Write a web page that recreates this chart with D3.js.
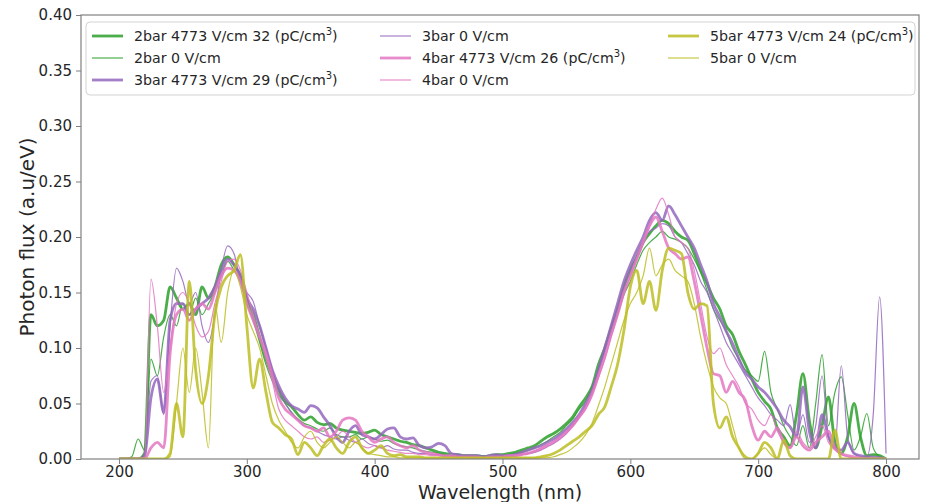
<!DOCTYPE html>
<html>
<head>
<meta charset="utf-8">
<script src="https://cdn.jsdelivr.net/npm/d3@7"></script>
<style>
  html, body { margin: 0; padding: 0; background: #ffffff; }
  svg { display: block; }
  text { font-family: "DejaVu Sans", sans-serif; fill: #262626; }
</style>
</head>
<body>
<svg id="chart" width="926" height="502"></svg>
<script>
// ---------------- DATA ----------------
const wavelengths = d3.range(200, 805, 5); // nm, 200..800 step 5

const g4773 = [
  0,0,0,0,0.005,0.13,0.12,0.125,0.155,0.145,
  0.135,0.14,0.13,0.155,0.145,0.155,0.175,0.182,0.175,0.165,
  0.145,0.13,0.11,0.09,0.075,0.062,0.052,0.047,0.04,0.035,
  0.038,0.033,0.031,0.032,0.028,0.026,0.025,0.024,0.023,0.024,
  0.026,0.022,0.02,0.018,0.016,0.015,0.013,0.012,0.01,0.008,
  0.006,0.005,0.004,0.004,0.003,0.003,0.003,0.002,0.003,0.004,
  0.004,0.005,0.006,0.008,0.01,0.012,0.016,0.02,0.023,0.027,
  0.032,0.038,0.047,0.055,0.065,0.085,0.1,0.118,0.135,0.155,
  0.17,0.182,0.195,0.203,0.21,0.215,0.212,0.205,0.2,0.197,
  0.185,0.17,0.158,0.145,0.135,0.12,0.112,0.097,0.085,0.072,
  0.06,0.052,0.045,0.028,0.02,0.012,0.04,0.077,0.035,0.01,
  0.03,0.056,0.015,0.005,0.02,0.05,0.02,0.003,0.004,0.003,
  0
];
const g0 = [
  0,0,0.002,0.018,0.008,0.09,0.075,0.11,0.13,0.12,
  0.14,0.13,0.145,0.13,0.14,0.15,0.165,0.178,0.17,0.16,
  0.14,0.125,0.105,0.085,0.07,0.058,0.05,0.042,0.036,0.032,
  0.03,0.027,0.025,0.028,0.022,0.02,0.02,0.022,0.018,0.02,
  0.018,0.016,0.017,0.014,0.012,0.011,0.01,0.008,0.007,0.006,
  0.005,0.004,0.003,0.003,0.002,0.003,0.002,0.003,0.002,0.003,
  0.003,0.004,0.005,0.006,0.008,0.01,0.013,0.016,0.02,0.024,
  0.03,0.036,0.045,0.052,0.065,0.08,0.098,0.115,0.13,0.148,
  0.16,0.175,0.188,0.195,0.2,0.205,0.2,0.198,0.195,0.19,
  0.18,0.168,0.152,0.135,0.125,0.115,0.1,0.09,0.08,0.075,
  0.07,0.097,0.06,0.045,0.03,0.02,0.012,0.03,0.01,0.05,
  0.094,0.03,0.06,0.074,0.04,0.008,0.02,0.041,0.01,0.002,
  0
];
const p4773 = [
  0,0,0,0,0.002,0.055,0.072,0.042,0.125,0.14,
  0.14,0.13,0.135,0.14,0.145,0.155,0.17,0.18,0.175,0.165,
  0.145,0.135,0.12,0.1,0.08,0.066,0.055,0.048,0.045,0.042,
  0.048,0.046,0.038,0.03,0.02,0.015,0.025,0.03,0.022,0.02,
  0.018,0.022,0.027,0.028,0.02,0.018,0.019,0.012,0.01,0.011,
  0.014,0.012,0.005,0.004,0.003,0.003,0.003,0.002,0.003,0.004,
  0.003,0.003,0.004,0.006,0.008,0.01,0.012,0.015,0.018,0.022,
  0.027,0.033,0.04,0.05,0.062,0.08,0.1,0.12,0.14,0.16,
  0.175,0.188,0.2,0.215,0.222,0.215,0.228,0.22,0.21,0.2,
  0.19,0.175,0.16,0.14,0.128,0.115,0.104,0.09,0.078,0.072,
  0.065,0.06,0.053,0.045,0.035,0.029,0.02,0.065,0.025,0.01,
  0.04,0.02,0.01,0.008,0.015,0.005,0.003,0.002,0.002,0.001,
  0
];
const p0 = [
  0,0,0,0,0.005,0.07,0.075,0.04,0.12,0.172,
  0.16,0.14,0.15,0.12,0.105,0.13,0.17,0.192,0.185,0.16,
  0.15,0.142,0.12,0.1,0.08,0.062,0.05,0.042,0.035,0.03,
  0.028,0.025,0.022,0.02,0.018,0.02,0.017,0.015,0.018,0.014,
  0.012,0.01,0.012,0.009,0.008,0.008,0.006,0.005,0.005,0.004,
  0.004,0.003,0.003,0.003,0.002,0.002,0.002,0.002,0.002,0.002,
  0.002,0.003,0.003,0.004,0.005,0.006,0.008,0.011,0.014,0.018,
  0.023,0.03,0.038,0.048,0.06,0.078,0.096,0.115,0.135,0.155,
  0.17,0.183,0.195,0.205,0.208,0.212,0.21,0.2,0.195,0.185,
  0.175,0.16,0.15,0.135,0.12,0.105,0.095,0.085,0.075,0.065,
  0.055,0.048,0.04,0.035,0.03,0.049,0.02,0.04,0.015,0.03,
  0.075,0.02,0.01,0.084,0.02,0.005,0.002,0.002,0.04,0.146,
  0.005
];
const k4773 = [
  0,0,0,0,0,0.01,0.015,0.01,0.095,0.13,
  0.135,0.125,0.135,0.14,0.135,0.15,0.165,0.172,0.17,0.16,
  0.14,0.125,0.11,0.095,0.075,0.055,0.045,0.04,0.035,0.03,
  0.028,0.025,0.028,0.02,0.025,0.035,0.037,0.035,0.025,0.02,
  0.015,0.018,0.02,0.015,0.012,0.01,0.012,0.008,0.006,0.005,
  0.004,0.003,0.003,0.002,0.002,0.002,0.002,0.001,0.002,0.002,
  0.002,0.003,0.003,0.004,0.005,0.007,0.009,0.012,0.015,0.019,
  0.024,0.03,0.038,0.046,0.058,0.075,0.092,0.112,0.13,0.15,
  0.165,0.18,0.195,0.21,0.218,0.205,0.19,0.185,0.18,0.182,
  0.16,0.13,0.1,0.077,0.075,0.06,0.07,0.06,0.053,0.03,
  0.017,0.025,0.02,0.028,0.015,0.01,0.02,0.012,0.008,0.015,
  0.02,0.025,0.01,0.005,0.003,0.002,0.001,0,0,0,
  0
];
const k0 = [
  0,0,0,0,0,0.162,0.12,0.06,0.1,0.14,
  0.15,0.14,0.12,0.11,0.115,0.14,0.16,0.178,0.18,0.17,
  0.15,0.13,0.11,0.09,0.07,0.045,0.035,0.03,0.025,0.02,
  0.018,0.02,0.015,0.017,0.02,0.025,0.02,0.015,0.012,0.01,
  0.012,0.01,0.008,0.007,0.006,0.005,0.005,0.004,0.004,0.003,
  0.003,0.002,0.002,0.002,0.002,0.001,0.001,0.001,0.001,0.001,
  0.002,0.002,0.003,0.004,0.005,0.007,0.01,0.013,0.016,0.02,
  0.025,0.03,0.037,0.045,0.058,0.073,0.09,0.11,0.13,0.15,
  0.165,0.18,0.195,0.21,0.225,0.235,0.22,0.2,0.195,0.19,
  0.17,0.14,0.11,0.095,0.1,0.085,0.075,0.065,0.05,0.045,
  0.035,0.03,0.04,0.025,0.015,0.01,0.025,0.015,0.01,0.02,
  0.03,0.015,0.008,0.004,0.002,0.001,0,0,0,0,
  0
];
const o4773 = [
  0,0,0,0,0,0,0,0,0.005,0.05,
  0.02,0.16,0.08,0.05,0.075,0.13,0.155,0.165,0.17,0.184,
  0.12,0.064,0.09,0.06,0.033,0.028,0.022,0.018,0.004,0.015,
  0.01,0.003,0.012,0.018,0.01,0.005,0.015,0.02,0.01,0.005,
  0.008,0.012,0.005,0.003,0.004,0.002,0.002,0.002,0.001,0.001,
  0.001,0.001,0.001,0.001,0.001,0.001,0.001,0.001,0.001,0.001,
  0.001,0.001,0.001,0.001,0.001,0.001,0.002,0.003,0.005,0.008,
  0.012,0.016,0.02,0.025,0.03,0.04,0.047,0.065,0.085,0.116,
  0.155,0.17,0.14,0.16,0.134,0.17,0.19,0.188,0.185,0.15,
  0.135,0.14,0.138,0.05,0.028,0.038,0.02,0.01,0.001,0,
  0.005,0.015,0.01,0,0.017,0.003,0,0,0,0,
  0,0,0.026,0,0,0,0,0,0,0,
  0
];
const o0 = [
  0,0,0,0,0,0,0,0,0.002,0.05,
  0.1,0.06,0.1,0.06,0.01,0.14,0.105,0.15,0.17,0.155,
  0.13,0.115,0.1,0.075,0.05,0.035,0.025,0.015,0.01,0.02,
  0.025,0.015,0.01,0.015,0.02,0.015,0.01,0.015,0.01,0.005,
  0.004,0.003,0.002,0.002,0.001,0.001,0.001,0.001,0.001,0.001,
  0.001,0.001,0.001,0.001,0.001,0.001,0.001,0.001,0.001,0.001,
  0.001,0.001,0.001,0.001,0.001,0.001,0.001,0.001,0.002,0.004,
  0.006,0.01,0.015,0.022,0.032,0.048,0.065,0.085,0.105,0.125,
  0.14,0.15,0.165,0.19,0.165,0.175,0.18,0.17,0.165,0.16,
  0.14,0.11,0.085,0.065,0.055,0.05,0.03,0.01,0.003,0,
  0.005,0.01,0.004,0,0,0,0,0,0,0,
  0,0,0,0,0,0,0,0,0,0,
  0
];

const seriesNames = [
  "2bar 4773 V/cm 32 (pC/cm", "2bar 0 V/cm",
  "3bar 4773 V/cm 29 (pC/cm", "3bar 0 V/cm",
  "4bar 4773 V/cm 26 (pC/cm", "4bar 0 V/cm",
  "5bar 4773 V/cm 24 (pC/cm", "5bar 0 V/cm"
];
const seriesValues = [g4773, g0, p4773, p0, k4773, k0, o4773, o0];
const seriesColors = ["#2ca02c","#2ca02c","#9467bd","#9467bd","#e377c2","#e377c2","#bcbd22","#bcbd22"];
const seriesThick = [true,false,true,false,true,false,true,false];

const xTicks = [200, 300, 400, 500, 600, 700, 800];
const yTicks = [0, 0.05, 0.10, 0.15, 0.20, 0.25, 0.30, 0.35, 0.40];
const xLabel = "Wavelength (nm)";
const yLabel = "Photon flux (a.u/eV)";

// ---------------- LAYOUT ----------------
const L = 81, R = 919, T = 15, B = 459;
const svg = d3.select("#chart");
const x = d3.scaleLinear().domain([170.3, 825.8]).range([L, R]);
const y = d3.scaleLinear().domain([0, 0.4]).range([B, T]);

svg.append("defs").append("clipPath").attr("id", "plotclip")
  .append("rect").attr("x", L).attr("y", T - 2).attr("width", R - L).attr("height", B - T + 2);

// lines
const line = d3.line()
  .x((d, i) => x(wavelengths[i]))
  .y(d => y(d))
  .curve(d3.curveMonotoneX);

const plot = svg.append("g").attr("clip-path", "url(#plotclip)");
seriesValues.forEach((vals, s) => {
  plot.append("path")
    .datum(vals)
    .attr("d", line)
    .attr("fill", "none")
    .attr("stroke", seriesColors[s])
    .attr("stroke-width", seriesThick[s] ? 2.8 : 1.2)
    .attr("stroke-opacity", 0.85)
    .attr("stroke-linejoin", "round");
});

// axes
const axisColor = "#808080";
const gx = svg.append("g").attr("transform", `translate(0,${B})`)
  .call(d3.axisBottom(x).tickValues(xTicks).tickFormat(d3.format("d")).tickSize(5).tickPadding(2));
const gy = svg.append("g").attr("transform", `translate(${L},0)`)
  .call(d3.axisLeft(y).tickValues(yTicks).tickFormat(d3.format(".2f")).tickSize(5).tickPadding(4));
[gx, gy].forEach(g => {
  g.select(".domain").remove();
  g.selectAll(".tick line").attr("stroke", axisColor).attr("stroke-width", 1);
  g.selectAll(".tick text").attr("font-family", "DejaVu Sans").attr("font-size", 15).attr("fill", "#262626");
});

// frame
svg.append("rect").attr("x", L).attr("y", T).attr("width", R - L).attr("height", B - T)
  .attr("fill", "none").attr("stroke", axisColor).attr("stroke-width", 1.2);

// axis labels
svg.append("text").attr("x", (L + R) / 2).attr("y", 499)
  .attr("text-anchor", "middle").attr("font-size", 19).text(xLabel);
svg.append("text")
  .attr("transform", `translate(34,${(T + B) / 2}) rotate(-90)`)
  .attr("text-anchor", "middle").attr("font-size", 20).text(yLabel);

// legend
const lg = svg.append("g");
lg.append("rect").attr("x", 86).attr("y", 22).attr("width", 829).attr("height", 73)
  .attr("rx", 4).attr("fill", "#ffffff").attr("fill-opacity", 0.85)
  .attr("stroke", "#d3d3d3").attr("stroke-width", 1);
const colX = [92, 380, 668];
const rowY = [36, 58, 80];
// column-major placement (3 rows per column)
seriesNames.forEach((name, s) => {
  const c = Math.floor(s / 3), r = s % 3;
  const hx = colX[c], hy = rowY[r];
  lg.append("line").attr("x1", hx).attr("x2", hx + 31).attr("y1", hy).attr("y2", hy)
    .attr("stroke", seriesColors[s]).attr("stroke-opacity", 0.85)
    .attr("stroke-width", seriesThick[s] ? 2.8 : 1.2);
  const t = lg.append("text").attr("x", hx + 42).attr("y", hy + 5).attr("font-size", 14.2);
  if (seriesThick[s]) {
    t.append("tspan").text(name);
    t.append("tspan").attr("font-size", 10).attr("dy", -6).text("3");
    t.append("tspan").attr("dy", 6).text(")");
  } else {
    t.text(name);
  }
});
</script>
</body>
</html>
